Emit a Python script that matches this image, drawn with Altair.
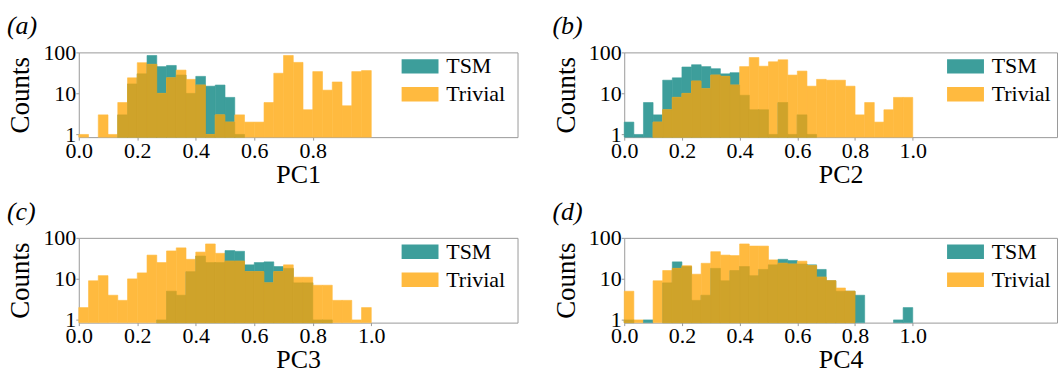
import altair as alt
import pandas as pd

# ---- data: histogram counts, 30 bins of width 1/30 on [0, 1] ----
n_bins = 30
bin_edges = [i / n_bins for i in range(n_bins + 1)]

pc1_tsm = [0, 0, 0, 0, 3, 17, 30, 84, 45, 48, 28, 10, 26, 15, 16, 8, 1, 0, 0, 0, 0, 0, 0, 0, 0, 0, 0, 0, 0, 0]
pc1_trivial = [1, 0, 3, 1, 6, 24, 56, 51, 10, 24, 37, 22, 16, 1, 3, 2, 3, 2, 2, 6, 31, 84, 57, 4, 34, 12, 19, 5, 34, 36]

pc2_tsm = [2, 1, 6, 3, 21, 24, 44, 50, 45, 40, 30, 32, 9, 4, 4, 1, 6, 1, 3, 1, 0, 0, 0, 0, 0, 0, 0, 0, 0, 0]
pc2_trivial = [0, 0, 0, 2, 4, 8, 10, 20, 13, 28, 26, 16, 45, 75, 46, 59, 66, 28, 35, 15, 22, 21, 21, 15, 3, 6, 2, 4, 8, 8]

pc3_tsm = [0, 0, 0, 0, 0, 0, 0, 0, 1, 5, 4, 15, 36, 25, 25, 49, 47, 22, 25, 26, 20, 18, 8, 8, 1, 1, 0, 0, 0, 0]
pc3_trivial = [2, 9, 12, 4, 3, 10, 14, 38, 25, 48, 57, 30, 45, 71, 42, 27, 27, 15, 15, 8, 15, 22, 11, 11, 7, 7, 3, 3, 1, 2]

pc4_tsm = [1, 0, 1, 0, 8, 26, 20, 3, 4, 18, 9, 16, 20, 12, 17, 22, 30, 28, 23, 22, 17, 9, 5, 5, 4, 0, 0, 0, 1, 2]
pc4_trivial = [5, 1, 0, 9, 16, 18, 21, 13, 24, 46, 38, 37, 71, 63, 63, 29, 24, 23, 27, 21, 11, 9, 6, 5, 0, 0, 0, 0, 0, 0]

x_ticks_a = [0.0, 0.2, 0.4, 0.6, 0.8]
x_ticks_full = [0.0, 0.2, 0.4, 0.6, 0.8, 1.0]
y_ticks = [1, 10, 100]
series_names = ["TSM", "Trivial"]

# ---- styles ----
TEAL = "#3D9E9B"
ORANGE = "#FFBA3F"
OVERLAP = "#CFA32A"
FONT = "Times New Roman"
GRAY = "#9a9a9a"
Y_MIN = 0.86


def panel(tsm, triv, xvals, xlabel, title, width):
    df = pd.DataFrame({
        "lo": bin_edges[:-1],
        "hi": bin_edges[1:],
        "TSM": tsm,
        "Trivial": triv,
    })
    xenc = alt.X(
        "lo:Q",
        scale=alt.Scale(domain=[0, 1.5], nice=False, zero=False),
        axis=alt.Axis(values=xvals, format=".1f", title=xlabel, labelFlush=False),
    )
    yscale = alt.Scale(type="log", domain=[Y_MIN, 100], nice=False)
    bars = (
        alt.Chart(df)
        .transform_fold(series_names, as_=["series", "count"])
        .transform_filter("datum.count > 0")
        .mark_rect(strokeWidth=0.6)
        .encode(
            x=xenc,
            x2="hi:Q",
            y=alt.Y("count:Q", scale=yscale,
                    axis=alt.Axis(values=y_ticks, format="d", title="Counts",
                                  labelFlush=False)),
            y2=alt.datum(Y_MIN),
            color=alt.Color(
                "series:N",
                scale=alt.Scale(domain=series_names, range=[TEAL, ORANGE]),
                legend=alt.Legend(
                    title=None, orient="none", legendX=322, legendY=3,
                    symbolType="M-1,-0.78L3,-0.78L3,0.78L-1,0.78Z",
                    symbolSize=342, symbolStrokeWidth=0, symbolOpacity=1,
                    labelFont=FONT, labelFontSize=22, labelColor="black",
                    labelOffset=24.5, rowPadding=6,
                ),
            ),
            stroke=alt.Color("series:N",
                             scale=alt.Scale(domain=series_names, range=[TEAL, ORANGE]),
                             legend=None),
        )
    )
    overlap = (
        alt.Chart(df)
        .transform_calculate(both="min(datum.TSM, datum.Trivial)")
        .transform_filter("datum.both > 0")
        .mark_rect(color=OVERLAP, stroke=OVERLAP, strokeWidth=0.6)
        .encode(
            x=xenc,
            x2="hi:Q",
            y=alt.Y("both:Q", scale=yscale),
            y2=alt.datum(Y_MIN),
        )
    )
    return alt.layer(bars, overlap).properties(
        width=width,
        height=85,
        title=alt.TitleParams(
            title, anchor="start", frame="bounds", fontSize=26, font=FONT,
            fontStyle="italic", fontWeight="normal", offset=2,
        ),
    )


pa = panel(pc1_tsm, pc1_trivial, x_ticks_a, "PC1", "(a)", 440)
pb = panel(pc2_tsm, pc2_trivial, x_ticks_full, "PC2", "(b)", 434)
pc = panel(pc3_tsm, pc3_trivial, x_ticks_full, "PC3", "(c)", 440)
pd_ = panel(pc4_tsm, pc4_trivial, x_ticks_full, "PC4", "(d)", 434)

row1 = alt.hconcat(pa, pb, spacing=33).resolve_scale(color="independent", stroke="independent").resolve_legend(color="independent")
row2 = alt.hconcat(pc, pd_, spacing=33).resolve_scale(color="independent", stroke="independent").resolve_legend(color="independent")

chart = (
    alt.vconcat(row1, row2, spacing=10)
    .resolve_scale(color="independent", stroke="independent")
    .resolve_legend(color="independent")
    .properties(padding={"left": 6, "top": 12, "right": 0, "bottom": 0},
                background="white")
    .configure_view(stroke=GRAY, strokeWidth=1)
    .configure_axis(
        grid=False, domain=False,
        labelFont=FONT, labelFontSize=22, labelColor="black",
        titleFont=FONT, titleColor="black", titleFontWeight="normal",
        tickColor=GRAY, tickSize=3, labelPadding=0,
    )
    .configure_axisX(titleFontSize=26, titlePadding=0)
    .configure_axisY(titleFontSize=27, titlePadding=8)
)

chart.save("out.html", embed_options={"renderer": "svg", "actions": False})
